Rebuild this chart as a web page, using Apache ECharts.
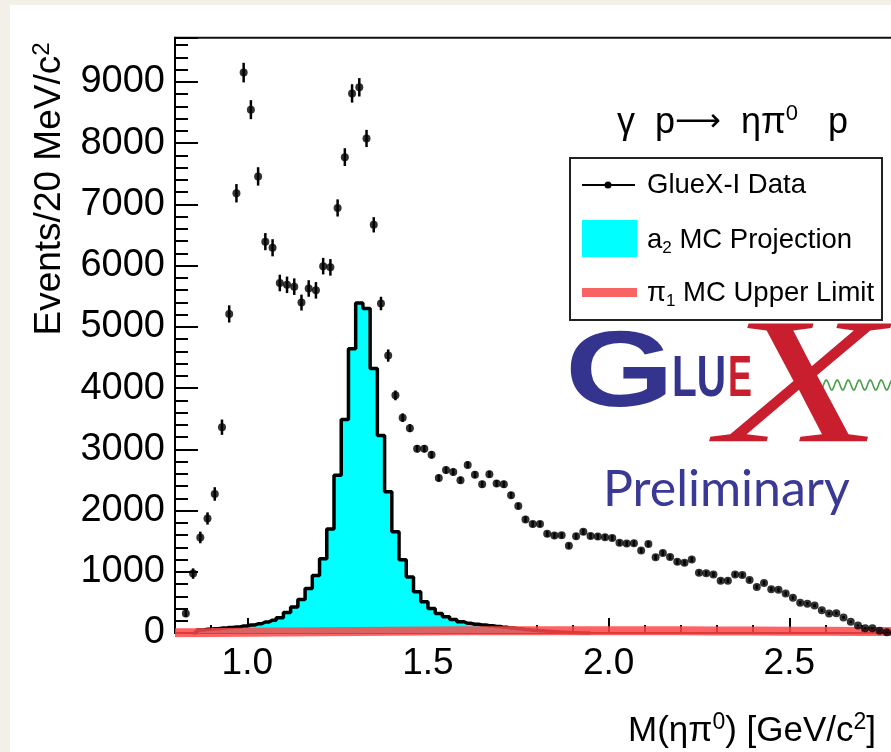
<!DOCTYPE html>
<html><head><meta charset="utf-8">
<script src="https://cdn.jsdelivr.net/npm/echarts@6/dist/echarts.min.js"></script>
<style>
html,body{margin:0;padding:0;width:891px;height:752px;overflow:hidden;background:#f3f0e9;}
#c{position:absolute;left:10px;top:5px;width:1000px;height:747px;background:#fff;}
</style></head><body><div id="c"></div>
<script>
// ---- data (bin width 20 MeV) ----
const binStart = 0.83, binWidth = 0.02;
const dataCounts = [
  320, 970, 1560, 1870, 2270, 3360, 5210, 7180, 9150, 8545,
  7455, 6390, 6290, 5715, 5685, 5655, 5395, 5625, 5595, 5990,
  5970, 6940, 7770, 8810, 8910, 8075, 6665, 5380, 4530, 3880,
  3515, 3345, 3010, 3010, 2910, 2530, 2660, 2630, 2496, 2745,
  2585, 2430, 2594, 2442, 2430, 2251, 2072, 1855, 1778, 1778,
  1620, 1590, 1595, 1425, 1580, 1652, 1585, 1575, 1565, 1550,
  1472, 1460, 1465, 1348, 1452, 1237, 1305, 1240, 1163, 1147,
  1202, 982, 975, 955, 853, 853, 955, 945, 865, 753,
  818, 715, 705, 644, 576, 492, 478, 448, 370, 318,
  323, 255, 182, 122, 76, 76, 36, 14, 0
];
const dataErrors = [
  60, 85, 95, 100, 110, 125, 140, 150, 160, 155,
  150, 140, 140, 135, 135, 135, 130, 135, 135, 135,
  135, 140, 145, 150, 150, 140, 125, 110, 100, 80,
  70, 65, 60, 60, 60, 58, 58, 58, 56, 56,
  56, 55, 55, 55, 55, 53, 52, 50, 50, 50,
  48, 48, 48, 46, 48, 48, 48, 48, 47, 47,
  46, 46, 46, 44, 45, 43, 44, 43, 42, 42,
  42, 39, 39, 39, 37, 37, 39, 39, 37, 35,
  36, 34, 34, 33, 31, 29, 29, 28, 26, 24,
  24, 22, 19, 16, 13, 13, 10, 8, 5
];
const mcStart = 0.85;
const a2Counts = [
  0, 50, 60, 70, 80, 90, 100, 115,
  130, 150, 180, 210, 250, 333, 424, 545, 727, 940,
  1212, 1697, 2576, 3485, 4640, 5390, 5300, 4320, 3225, 2305,
  1655, 1195, 915, 672, 512, 400, 320, 265, 222, 184,
  158, 142, 130, 118, 105, 92, 80, 68, 56, 45,
  36, 28, 20, 14, 8, 4, 0, 0
];
const pi1Mass = [0.8,0.9,1.0,1.1,1.2,1.3,1.4,1.5,1.6,1.7,1.8,1.9,2.0,2.1,2.2,2.3,2.4,2.5,2.6,2.7,2.8,2.9,3.0];
const pi1Counts = [5, 8, 12, 16, 20, 24, 28, 32, 35, 37, 38, 38, 37, 36, 35, 34, 32, 30, 28, 26, 24, 22, 20];
const xTickLabels = ['1.0','1.5','2.0','2.5','3.0'];
const yTickLabels = ['0','1000','2000','3000','4000','5000','6000','7000','8000','9000'];

// ---- build ----
const dataPts = dataCounts.map((v,i)=>[+(binStart+i*binWidth).toFixed(2), v, dataErrors[i]]);
const a2Pts = a2Counts.map((v,i)=>[+(mcStart+i*binWidth).toFixed(2), v]);
const pi1Pts = pi1Counts.map((v,i)=>[pi1Mass[i], v]);

const OX = 10, OY = 5;
const FONT = 'Liberation Sans';
const blue = '#34348f', red = '#c81e2d';

const wave = [];
for (let x = 818; x <= 895; x += 1) wave.push([x-OX, 385-OY + 5*Math.sin((x-818)/11*2*Math.PI)]);

const chart = echarts.init(document.getElementById('c'), null, {renderer:'canvas'});
chart.setOption({
  animation:false,
  backgroundColor:'#fff',
  grid:{left:165, top:32.7, right:40, bottom:119, show:true, borderColor:'#111', borderWidth:2, backgroundColor:'transparent', outerBoundsMode:'none', containLabel:false},
  xAxis:[
    {type:'value', min:0.8, max:3.0, interval:0.1, position:'bottom', offset:0,
     axisLine:{show:true, onZero:false, lineStyle:{color:'#000', width:2}},
     axisTick:{show:true, inside:true, length:8, lineStyle:{color:'#000', width:2}},
     axisLabel:{show:false}, splitLine:{show:false}},
    {type:'value', min:0.8, max:3.0, splitNumber:5, position:'bottom', offset:0,
     axisLine:{show:false, onZero:false},
     axisTick:{show:true, inside:true, length:15, lineStyle:{color:'#000', width:2}},
     axisLabel:{show:true, color:'#000', fontFamily:FONT, fontSize:37, margin:12,
       formatter:v=>{const s=v.toFixed(1); return (xTickLabels.includes(s)&&Math.abs(v-parseFloat(s))<1e-6)?s:'';}},
     splitLine:{show:false}}
  ],
  yAxis:[
    {type:'value', min:0, max:9720, interval:200, position:'left', offset:0,
     axisLine:{show:true, onZero:false, lineStyle:{color:'#000', width:2}},
     axisTick:{show:true, inside:true, length:13, lineStyle:{color:'#000', width:2}},
     axisLabel:{show:false}, splitLine:{show:false}},
    {type:'value', min:0, max:9720, interval:1000, position:'left', offset:0,
     axisLine:{show:false, onZero:false},
     axisTick:{show:true, inside:true, length:23, lineStyle:{color:'#000', width:2}},
     axisLabel:{show:true, color:'#000', fontFamily:FONT, fontSize:38, margin:10,
       formatter:v=>{const s=String(Math.round(v)); return (yTickLabels.includes(s)&&Math.abs(v-Math.round(v))<1e-6)?s:'';}},
     splitLine:{show:false}}
  ],
  series:[
    {name:'a2 MC Projection', type:'line', step:'middle', xAxisIndex:0, yAxisIndex:0, data:a2Pts,
     symbol:'none', lineStyle:{color:'#000', width:3.5}, areaStyle:{color:'#00ffff', opacity:1}, z:2},
    {name:'pi1 MC Upper Limit', type:'line', xAxisIndex:0, yAxisIndex:0, data:pi1Pts,
     symbol:'none', lineStyle:{color:'rgba(255,70,70,0.85)', width:9}, z:3},
    {name:'errors', type:'custom', xAxisIndex:0, yAxisIndex:0, data:dataPts, z:4,
     renderItem:(params, api)=>{
       const x=api.value(0), y=api.value(1), e=api.value(2);
       const p1=api.coord([x,y-e]), p2=api.coord([x,y+e]);
       return {type:'line', shape:{x1:p1[0],y1:p1[1],x2:p2[0],y2:p2[1]}, style:{stroke:'#000', lineWidth:2.5}};
     }},
    {name:'GlueX-I Data', type:'scatter', xAxisIndex:0, yAxisIndex:0, data:dataPts.map(d=>[d[0],d[1]]),
     symbol:'circle', symbolSize:8, itemStyle:{color:'#000'}, z:5}
  ],
  graphic:[
    {type:'text', x:50-OX, y:189-OY, rotation:Math.PI/2,
     style:{text:'Events/20 MeV/c{sup|2}', fontFamily:FONT, fontSize:37, fill:'#000', align:'center', verticalAlign:'middle',
       rich:{sup:{fontFamily:FONT, fontSize:24, padding:[0,0,16,0], fill:'#000'}}}},
    {type:'text', x:628-OX, y:731-OY,
     style:{text:'M(ηπ{sup|0}) [GeV/c{sup|2}]', fontFamily:FONT, fontSize:35, fill:'#000', align:'left', verticalAlign:'middle',
       rich:{sup:{fontFamily:FONT, fontSize:23, padding:[0,0,16,0], fill:'#000'}}}},
    {type:'text', x:617-OX, y:123-OY,
     style:{text:'γ  p{arr|⟶}  ηπ{sup|0}   p', fontFamily:FONT, fontSize:36, fill:'#000', align:'left', verticalAlign:'middle',
       rich:{sup:{fontFamily:FONT, fontSize:22, padding:[0,0,18,0], fill:'#000'},
             arr:{fontFamily:'DejaVu Sans', fontSize:32, fill:'#000'}}}},
    // legend
    {type:'rect', shape:{x:570-OX, y:158-OY, width:312, height:162}, style:{fill:'#fff', stroke:'#222', lineWidth:2}, z:10},
    {type:'line', shape:{x1:582-OX, y1:185-OY, x2:635-OX, y2:185-OY}, style:{stroke:'#000', lineWidth:2}, z:11},
    {type:'circle', shape:{cx:608-OX, cy:185-OY, r:3.5}, style:{fill:'#000'}, z:11},
    {type:'text', x:647-OX, y:185-OY, z:11, style:{text:'GlueX-I Data', fontFamily:FONT, fontSize:27.5, fill:'#000', align:'left', verticalAlign:'middle'}},
    {type:'rect', shape:{x:582-OX, y:220-OY, width:55, height:37}, style:{fill:'#00ffff'}, z:11},
    {type:'text', x:647-OX, y:240-OY, z:11, style:{text:'a{sub|2} MC Projection', fontFamily:FONT, fontSize:27.5, fill:'#000', align:'left', verticalAlign:'middle',
       rich:{sub:{fontFamily:FONT, fontSize:17, padding:[16,0,0,0], fill:'#000'}}}},
    {type:'rect', shape:{x:582-OX, y:288-OY, width:55, height:9}, style:{fill:'#f86464'}, z:11},
    {type:'text', x:647-OX, y:293-OY, z:11, style:{text:'π{sub|1} MC Upper Limit', fontFamily:FONT, fontSize:27.5, fill:'#000', align:'left', verticalAlign:'middle',
       rich:{sub:{fontFamily:FONT, fontSize:17, padding:[16,0,0,0], fill:'#000'}}}},
    // logo
    {type:'text', x:565-OX, y:376-OY, scaleX:1.3, z:11, style:{text:'G', fontFamily:FONT, fontWeight:'bold', fontSize:108, fill:blue, align:'left', verticalAlign:'middle'}},
    {type:'text', x:672-OX, y:380-OY, scaleX:0.7, z:11, style:{text:'LU', fontFamily:FONT, fontWeight:'bold', fontSize:58, fill:blue, align:'left', verticalAlign:'middle'}},
    {type:'text', x:728-OX, y:380-OY, scaleX:0.62, z:11, style:{text:'E', fontFamily:FONT, fontWeight:'bold', fontSize:58, fill:red, align:'left', verticalAlign:'middle'}},
    {type:'polyline', shape:{points:wave}, style:{stroke:'#4aa04a', lineWidth:1.6, fill:null}, z:11},
    {type:'text', x:718-OX, y:394-OY, scaleX:1.5, z:12, style:{text:'X', fontFamily:'Liberation Serif', fontStyle:'italic', fontSize:180, fill:red, align:'left', verticalAlign:'middle'}},
    {type:'text', x:603-OX, y:490-OY, z:11, style:{text:'Preliminary', fontFamily:'Lato', fontSize:50, fill:'#3a3a96', align:'left', verticalAlign:'middle'}}
  ]
});
</script></body></html>
